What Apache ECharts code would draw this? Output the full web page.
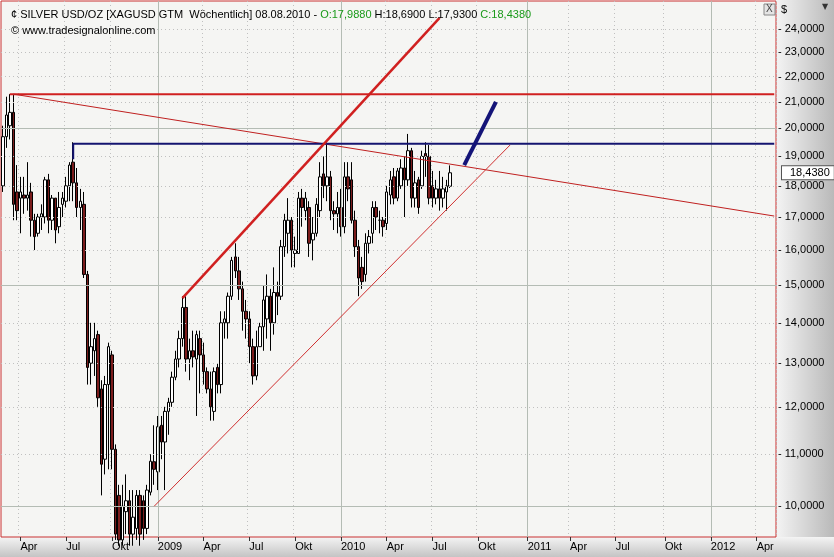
<!DOCTYPE html>
<html><head><meta charset="utf-8">
<script src="https://cdn.jsdelivr.net/npm/echarts@6/dist/echarts.min.js"></script>
<style>html,body{margin:0;padding:0;background:#fff}#c{width:834px;height:557px}</style>
</head><body><div id="c"></div>
<script>
// weekly candles from 2008-02-29: [open, close, low, high]
const firstWeek = '2008-02-29';
const weekCount = 220;
const candles = [
[18.0,19.7,17.8,20.1],[19.7,20.5,19.3,21.2],[20.1,20.6,19.6,21.3],[20.6,17.4,16.9,21.3],[17.8,17.2,16.9,18.7],
[17.6,17.8,16.5,18.3],[17.7,17.6,17.1,18.3],[17.6,17.7,17.2,18.8],[17.8,16.9,16.4,18.1],[16.9,16.4,16.0,17.1],
[16.5,17.0,16.4,17.1],[17.0,17.1,16.6,17.4],[17.0,18.2,16.8,18.3],[18.2,16.9,16.5,18.4],[16.9,17.6,16.6,17.7],
[17.6,16.6,16.2,17.6],[16.7,17.3,16.5,17.8],[17.4,17.6,17.0,17.8],[17.5,18.0,17.3,18.3],[18.0,18.7,17.5,18.8],
[18.8,18.1,17.5,19.5],[18.1,17.3,17.0,18.6],[17.3,17.5,16.6,17.9],[17.4,15.3,15.2,17.8],[15.3,12.9,12.5,15.4],
[13.0,13.4,12.5,14.0],[13.3,13.6,12.7,14.0],[13.7,12.2,12.0,13.8],[12.4,10.8,10.2,12.6],[10.9,12.5,10.6,12.7],
[12.5,13.4,10.7,13.5],[13.2,11.1,10.7,13.3],[11.1,9.5,9.4,11.2],[10.2,9.4,9.3,10.4],[9.4,10.0,9.3,10.4],
[9.9,10.1,9.5,10.6],[10.1,9.5,9.3,10.3],[9.5,9.8,9.3,10.3],[9.6,10.2,9.4,10.3],[10.2,9.5,9.3,10.3],
[10.1,9.6,9.4,10.2],[9.6,10.3,9.5,10.4],[10.26,10.86,10.2,11.0],[10.85,10.7,10.4,11.6],[10.65,11.57,10.3,11.8],
[11.6,11.25,10.9,11.8],[11.25,11.9,10.3,12.0],[11.9,12.1,11.4,12.2],[12.1,12.67,12.0,12.8],[12.67,13.1,12.6,13.3],
[13.1,13.6,12.9,13.8],[13.6,14.4,13.4,14.7],[14.4,13.1,12.8,14.7],[13.1,13.3,12.6,13.6],[13.3,13.15,12.9,13.8],
[13.1,13.7,11.8,13.8],[13.6,13.2,12.3,13.8],[13.2,12.8,12.5,13.5],[12.8,12.4,12.3,12.9],[12.4,12.0,11.7,12.8],
[11.9,12.8,11.7,12.9],[12.9,12.5,12.3,13.0],[12.5,14.0,12.3,14.3],[14.0,14.1,13.6,14.3],[14.0,14.7,13.6,14.8],
[14.7,15.7,14.6,15.8],[15.8,15.4,15.2,16.2],[15.4,14.9,14.6,15.8],[14.9,14.3,13.8,15.1],[14.3,14.1,13.6,14.6],
[14.1,13.4,13.0,14.3],[13.4,12.7,12.5,13.6],[12.7,13.4,12.6,13.8],[13.4,13.9,13.4,14.0],[13.9,14.6,13.3,15.0],
[14.1,14.7,13.6,15.3],[14.7,14.0,13.3,14.9],[14.0,14.8,13.7,15.5],[14.8,14.7,14.2,15.1],[14.7,16.1,14.6,16.3],
[16.1,16.9,15.8,17.1],[16.5,16.9,15.9,17.6],[16.9,16.0,15.5,17.0],[15.9,16.0,15.5,16.4],[15.9,17.6,15.9,17.8],
[17.6,17.3,16.7,17.9],[17.2,17.6,16.9,17.8],[17.3,16.2,15.8,17.5],[16.3,16.5,15.7,17.0],[16.5,17.4,16.4,17.6],
[17.2,18.3,17.0,18.8],[18.4,18.0,17.6,19.0],[18.0,18.3,17.5,19.5],[18.3,17.2,16.9,18.5],[17.2,17.1,16.6,17.5],
[17.1,17.3,16.5,17.8],[17.3,16.7,16.4,17.9],[16.7,18.3,16.5,18.8],[18.3,17.9,17.5,18.8],[18.2,16.9,16.8,18.8],
[16.9,16.1,15.8,17.2],[16.1,15.2,14.7,16.3],[15.5,15.1,14.9,15.8],[15.3,16.2,15.1,16.5],[16.2,16.4,15.9,16.6],
[16.5,17.3,16.2,17.5],[17.3,17.0,16.6,17.5],[16.9,16.9,16.5,17.2],[16.9,16.7,16.4,17.0],[16.8,17.8,16.6,18.0],
[17.7,18.2,17.4,18.5],[18.3,17.6,17.4,18.6],[17.6,18.5,17.5,18.6],[18.0,18.6,17.9,18.9],[18.6,18.2,17.0,19.0],
[18.2,19.2,18.0,19.8],[19.2,17.6,17.3,19.3],[17.6,18.1,17.3,18.5],[18.2,17.3,17.1,18.3],[18.0,19.0,17.9,19.2],
[19.1,19.0,18.3,19.5],[19.0,17.6,17.4,19.4],[18.0,17.6,17.3,18.5],[17.6,17.9,17.4,18.2],[17.9,17.6,17.2,18.5],
[17.6,17.9,17.3,18.3],[17.8,18.0,17.2,18.2],[17.988,18.438,17.93,18.69]
];
// trend lines: [weekIndex, price]
const redTop = [[2,21.3],[219,21.3]];
const redFalling = [[3,21.3],[219,17.03]];
const blueHoriz = [[20,18.9],[20,19.45],[219,19.45]];
const redRising = [[51,14.65],[124,24.5]];
const redLower = [[43,10.0],[144,19.4]];
const blueArrow = [[131,18.7],[140,21.0]];
const yTicks = [10,11,12,13,14,15,16,17,18,19,20,21,22,23,24];
const solidY = [10,15,20];
const lastClose = 18.438;
const monthNames = {0:null,3:'Apr',6:'Jul',9:'Okt'};

const cats=[]; const d0=new Date(firstWeek+'T12:00:00Z');
for(let i=0;i<weekCount;i++){const d=new Date(d0.getTime()+i*7*864e5);cats.push(d.toISOString().slice(0,10));}
function isQuarterStart(i){const d=new Date(cats[i]+'T12:00:00Z');const m=d.getUTCMonth();if(m%3!==0)return false;if(i===0)return false;const p=new Date(cats[i-1]+'T12:00:00Z');return p.getUTCMonth()!==m;}
function isYearStart(i){return isQuarterStart(i)&&new Date(cats[i]+'T12:00:00Z').getUTCMonth()===0;}
const fmt=v=>v.toFixed(4).replace('.',',');

const markData=[];
yTicks.forEach(v=>markData.push({yAxis:v,lineStyle:solidY.includes(v)?{color:'#b4bcb4',type:'solid',width:1}:{color:'#c0c0c0',type:[1,3],width:1},label:{show:true,position:'end',formatter:'- '+fmt(v),color:'#000',fontSize:11,fontFamily:'Liberation Sans',distance:2}}));
cats.forEach((c,i)=>{if(isYearStart(i))markData.push({xAxis:i,lineStyle:{color:'#b4bcb4',type:'solid',width:1},label:{show:false}});});
markData.push({yAxis:lastClose,lineStyle:{color:'rgba(0,0,0,0)',width:1},label:{show:true,position:'end',formatter:fmt(lastClose),color:'#000',fontSize:11,fontFamily:'Liberation Sans',backgroundColor:'#fff',borderColor:'#555',borderWidth:1,padding:[1,4,1,8],distance:6}});

const ch=echarts.init(document.getElementById('c'));
const ln=(data,color,width)=>({type:'line',data:data,symbol:'none',lineStyle:{color:color,width:width},silent:true,z:5});
ch.setOption({
 animation:false,backgroundColor:'#fff',
 graphic:[
  {type:'rect',shape:{x:776,y:0,width:58,height:557},style:{fill:new echarts.graphic.LinearGradient(0,0,1,0,[{offset:0,color:'#f4f4f4'},{offset:1,color:'#b9b9b9'}])},z:-10},
  {type:'rect',shape:{x:0,y:537,width:834,height:20},style:{fill:new echarts.graphic.LinearGradient(0,0,0,1,[{offset:0,color:'#f4f4f4'},{offset:1,color:'#c4c4c4'}])},z:-10},
  {type:'rect',shape:{x:764,y:4,width:11,height:11},style:{fill:'#e4e4e4',stroke:'#888'},z:10},
  {type:'text',x:766,y:4,style:{text:'X',font:'10px Liberation Sans',fill:'#444'},z:11},
  {type:'text',x:781,y:4,style:{text:'$',font:'11px Liberation Sans',fill:'#000'},z:11},
  {type:'text',x:822,y:3,style:{text:'▼',font:'8px DejaVu Sans',fill:'#333'},z:11}
 ],
 title:[{left:6,top:4,text:'¢ {k|SILVER USD/OZ [XAGUSD GTM  Wöchentlich] 08.08.2010 - }{g|O:17,9880}{k| H:18,6900 L:17,9300 }{g|C:18,4380}',
   textStyle:{fontSize:11,fontWeight:'normal',fontFamily:'Liberation Sans',color:'#000',rich:{k:{fontSize:11,fontFamily:'Liberation Sans',color:'#000'},g:{fontSize:11,fontFamily:'Liberation Sans',color:'#1a9a1a'}}}},
  {left:6,top:20,text:'© www.tradesignalonline.com',textStyle:{fontSize:11,fontWeight:'normal',fontFamily:'Liberation Sans',color:'#000'}}],
 grid:{left:1,right:58,top:1,bottom:20,show:true,backgroundColor:'#f5f5f3',borderColor:'#c83030',borderWidth:1},
 xAxis:{type:'category',data:cats,boundaryGap:true,
   axisLine:{show:false},
   axisTick:{show:true,alignWithLabel:true,interval:(i)=>isQuarterStart(i),length:4,lineStyle:{color:'#333'}},
   axisLabel:{interval:(i)=>isQuarterStart(i),align:'left',margin:4,color:'#000',fontSize:11,fontFamily:'Liberation Sans',
     formatter:(v)=>{const d=new Date(v+'T12:00:00Z');const m=d.getUTCMonth();return m===0?String(d.getUTCFullYear()):monthNames[m];}},
   splitLine:{show:true,interval:(i)=>isQuarterStart(i)&&!isYearStart(i),lineStyle:{color:'#c0c0c0',type:[1,3]}}},
 yAxis:{type:'log',min:9.45,max:25.27,show:false,splitLine:{show:false}},
 series:[
  {type:'candlestick',data:candles,barWidth:3,
   itemStyle:{color:'#ffffff',color0:'#7b1c1c',borderColor:'#000',borderColor0:'#000',borderWidth:1},
   markLine:{silent:true,symbol:'none',animation:false,data:markData},z:3},
  ln(redTop,'#d02020',2), ln(redFalling,'#c02020',1), ln(blueHoriz,'#141470',2),
  ln(redRising,'#d02020',2.5), ln(redLower,'#d03030',1), ln(blueArrow,'#141478',4)
 ]
});
</script></body></html>
